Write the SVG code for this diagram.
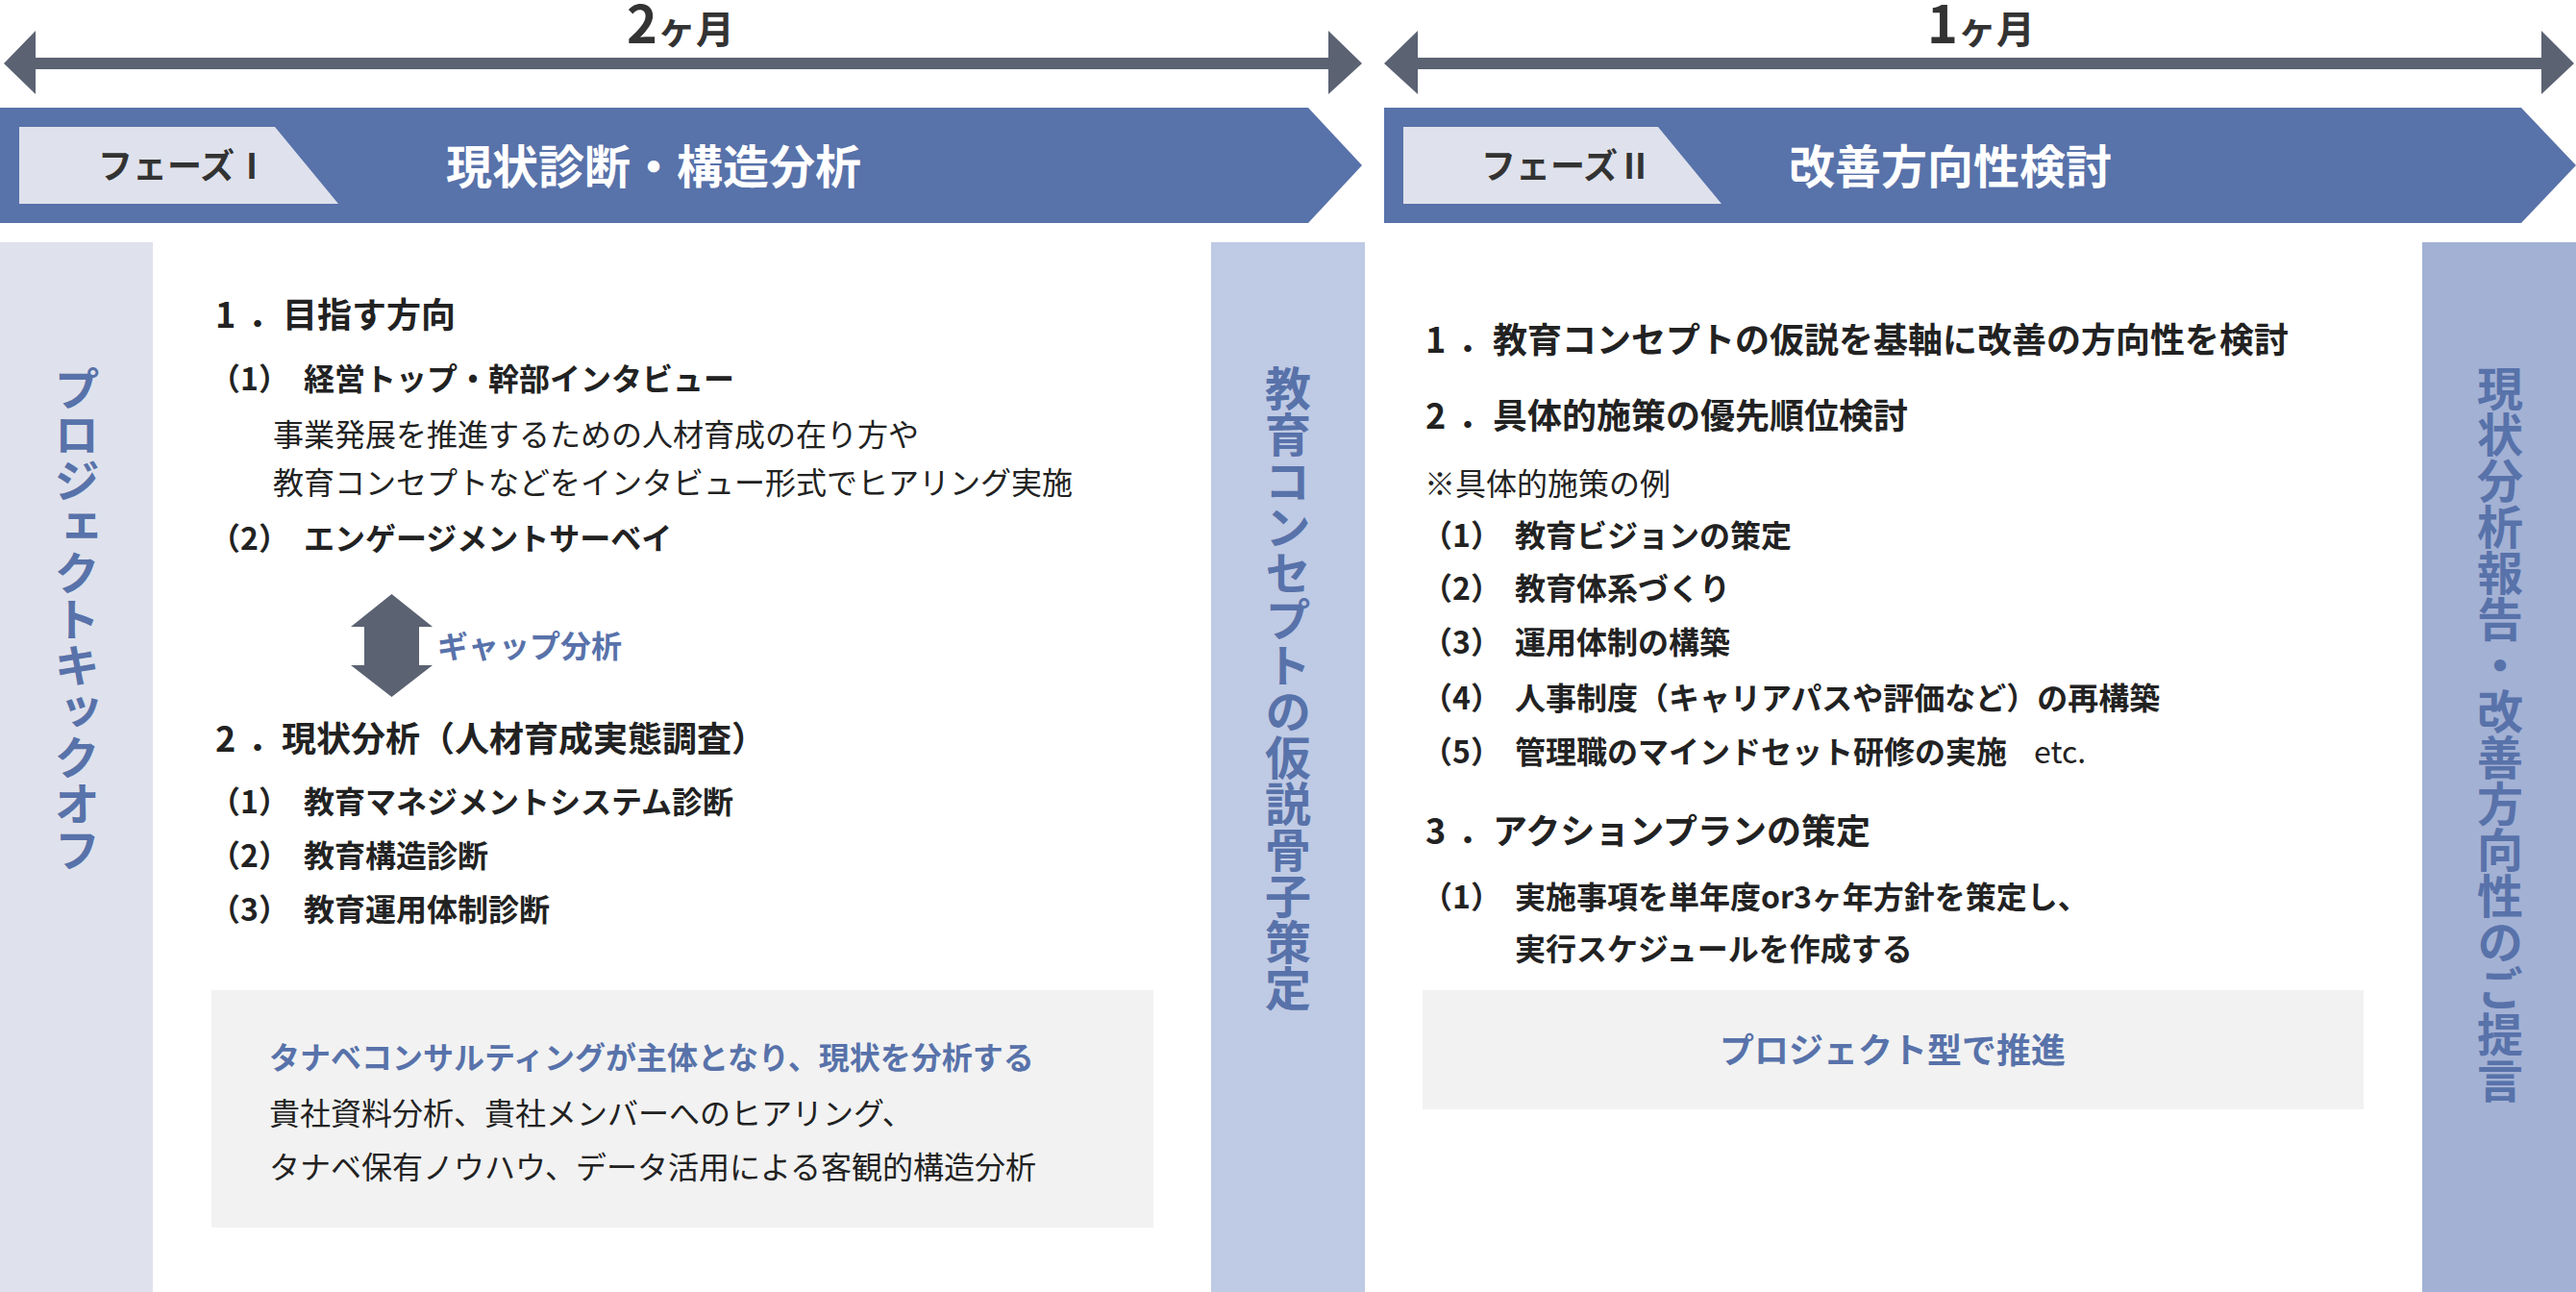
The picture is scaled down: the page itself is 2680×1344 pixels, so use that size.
<svg xmlns="http://www.w3.org/2000/svg" width="2680" height="1344" viewBox="0 0 2680 1344">
<style>
text{font-family:"Noto Sans CJK JP","Noto Sans",sans-serif;}
.h{font-size:36px;font-weight:700;fill:#222;}
.it{font-size:32px;font-weight:700;fill:#222;}
.bd{font-size:32px;font-weight:400;fill:#222;}
.bl{font-size:32px;font-weight:700;fill:#5872aa;}
.bl36{font-size:36px;font-weight:700;fill:#5872aa;}
.vt{font-size:48px;font-weight:700;fill:#5872aa;writing-mode:vertical-rl;}
.band{fill:#5872aa;}
.tab{fill:#dfe2ec;}
.tabt{font-size:36px;font-weight:700;fill:#333;}
.tt{font-size:48px;font-weight:700;fill:#fff;}
.arr{fill:#5b6272;}
.dur{font-weight:700;fill:#333;}
</style>
<rect width="2680" height="1344" fill="#fff"/>

<g id="connectors">
  <polygon class="arr" points="4,66 37,32 37,60 1382,60 1382,32 1417,66 1382,98 1382,72 37,72 37,98"/>
  <polygon class="arr" points="1440,66 1475,32 1475,60 2644,60 2644,32 2678,66 2644,98 2644,72 1475,72 1475,98"/>
  <polygon class="arr" points="407.5,618 450,652 436,652 436,692 450,692 407.5,725 365,692 379,692 379,652 365,652"/>
</g>

<g id="duration1">
  <text class="dur" x="708" y="45" text-anchor="middle"><tspan font-size="54">2</tspan><tspan font-size="40">ヶ月</tspan></text>
</g>
<g id="duration2">
  <text class="dur" x="2061" y="45" text-anchor="middle"><tspan font-size="54">1</tspan><tspan font-size="40">ヶ月</tspan></text>
</g>

<g id="phase1-header">
  <polygon class="band" points="0,112 1361,112 1417,172 1361,232 0,232"/>
  <polygon class="tab" points="20,132 286,132 352,212 20,212"/>
  <text class="tabt" x="191" y="186" text-anchor="middle">フェーズⅠ</text>
  <text class="tt" x="680" y="191" text-anchor="middle">現状診断・構造分析</text>
</g>

<g id="phase2-header">
  <polygon class="band" points="1440,112 2623,112 2680,172 2623,232 1440,232"/>
  <polygon class="tab" points="1460,132 1725,132 1791,212 1460,212"/>
  <text class="tabt" x="1630" y="186" text-anchor="middle">フェーズⅡ</text>
  <text class="tt" x="2029" y="191" text-anchor="middle">改善方向性検討</text>
</g>

<g id="kickoff">
  <rect x="0" y="252" width="159" height="1092" fill="#dfe2ec"/>
  <text class="vt" x="80" y="380">プロジェクトキックオフ</text>
</g>

<g id="concept">
  <rect x="1260" y="252" width="160" height="1092" fill="#bfcae4"/>
  <text class="vt" x="1340" y="380">教育コンセプトの仮説骨子策定</text>
</g>

<g id="report">
  <rect x="2520" y="252" width="160" height="1092" fill="#a3b1d4"/>
  <text class="vt" x="2601" y="380">現状分析報告・改善方向性のご提言</text>
</g>

<g id="phase1-content">
  <text class="h" y="341"><tspan x="224">1</tspan><tspan x="258">．</tspan><tspan x="294">目指す方向</tspan></text>
  <text class="it" y="406"><tspan x="218">（1）</tspan><tspan x="316">経営トップ・幹部インタビュー</tspan></text>
  <text class="bd" x="284" y="464">事業発展を推進するための人材育成の在り方や</text>
  <text class="bd" x="284" y="514">教育コンセプトなどをインタビュー形式でヒアリング実施</text>
  <text class="it" y="572"><tspan x="218">（2）</tspan><tspan x="316">エンゲージメントサーベイ</tspan></text>
  <text class="bl" x="455" y="684">ギャップ分析</text>
  <text class="h" y="782"><tspan x="224">2</tspan><tspan x="258">．</tspan><tspan x="293">現状分析（人材育成実態調査）</tspan></text>
  <text class="it" y="846"><tspan x="218">（1）</tspan><tspan x="316">教育マネジメントシステム診断</tspan></text>
  <text class="it" y="902"><tspan x="218">（2）</tspan><tspan x="316">教育構造診断</tspan></text>
  <text class="it" y="958"><tspan x="218">（3）</tspan><tspan x="316">教育運用体制診断</tspan></text>
</g>

<g id="phase1-box">
  <rect x="220" y="1030" width="980" height="247" fill="#f2f2f2"/>
  <text class="bl" x="280" y="1112">タナベコンサルティングが主体となり、現状を分析する</text>
  <text class="bd" x="280" y="1170">貴社資料分析、貴社メンバーへのヒアリング、</text>
  <text class="bd" x="280" y="1226">タナベ保有ノウハウ、データ活用による客観的構造分析</text>
</g>

<g id="phase2-content">
  <text class="h" y="367"><tspan x="1483">1</tspan><tspan x="1517">．</tspan><tspan x="1553">教育コンセプトの仮説を基軸に改善の方向性を検討</tspan></text>
  <text class="h" y="446"><tspan x="1483">2</tspan><tspan x="1517">．</tspan><tspan x="1553">具体的施策の優先順位検討</tspan></text>
  <text class="bd" x="1482" y="515">※具体的施策の例</text>
  <text class="it" y="569"><tspan x="1479">（1）</tspan><tspan x="1576">教育ビジョンの策定</tspan></text>
  <text class="it" y="624"><tspan x="1479">（2）</tspan><tspan x="1576">教育体系づくり</tspan></text>
  <text class="it" y="680"><tspan x="1479">（3）</tspan><tspan x="1576">運用体制の構築</tspan></text>
  <text class="it" y="738"><tspan x="1479">（4）</tspan><tspan x="1576">人事制度（キャリアパスや評価など）の再構築</tspan></text>
  <text class="it" y="794"><tspan x="1479">（5）</tspan><tspan x="1576">管理職のマインドセット研修の実施</tspan><tspan x="2116" font-weight="400">etc.</tspan></text>
  <text class="h" y="878"><tspan x="1483">3</tspan><tspan x="1517">．</tspan><tspan x="1553">アクションプランの策定</tspan></text>
  <text class="it" y="945"><tspan x="1479">（1）</tspan><tspan x="1576">実施事項を単年度or3ヶ年方針を策定し、</tspan></text>
  <text class="it" x="1576" y="999">実行スケジュールを作成する</text>
</g>

<g id="phase2-box">
  <rect x="1480" y="1030" width="979" height="124" fill="#f2f2f2"/>
  <text class="bl36" x="1969" y="1106" text-anchor="middle">プロジェクト型で推進</text>
</g>
</svg>
